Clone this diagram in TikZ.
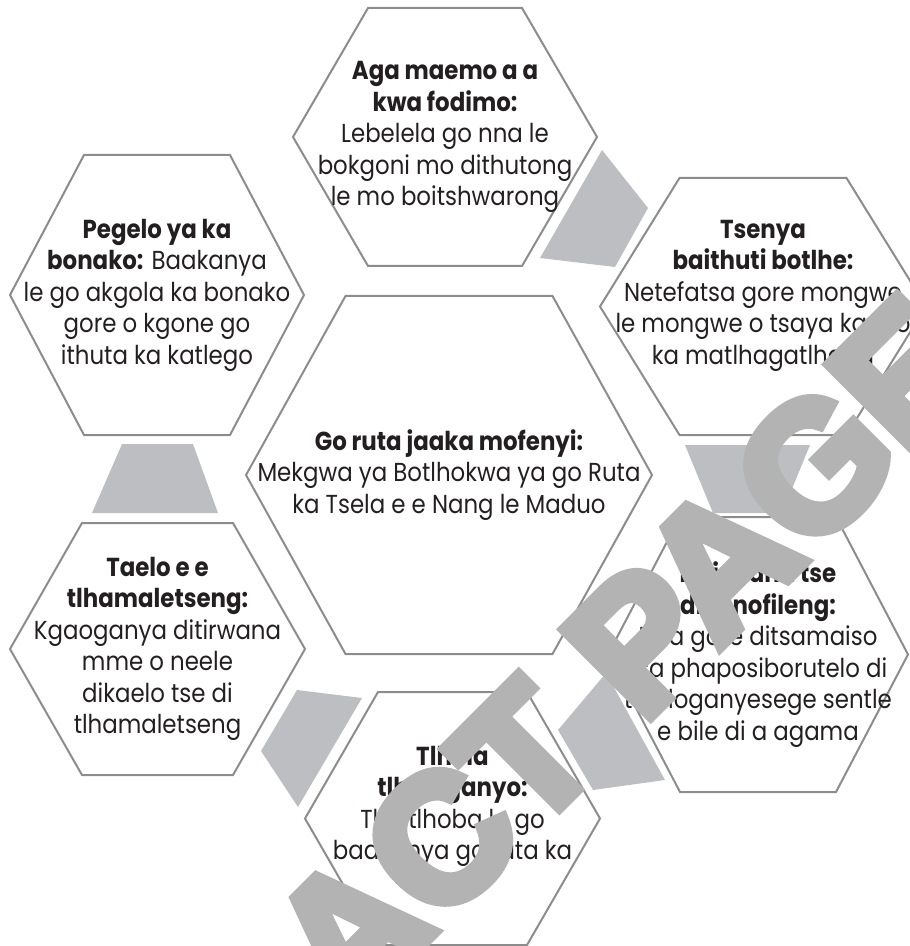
\documentclass[tikz,border=0pt]{standalone}
\usepackage{fontspec}
\setmainfont{Poppins}[FakeStretch=0.88]
\newfontfamily\wmfont{Liberation Sans Bold}[FakeBold=6]
\usetikzlibrary{calc}
\definecolor{hexgray}{HTML}{8C8C8C}
\definecolor{arrgray}{HTML}{BDBEC1}
\definecolor{wmgray}{HTML}{B3B3B3}
\definecolor{ink}{HTML}{231F20}
\tikzset{
  hexline/.style={draw=hexgray, line width=1pt, line join=miter},
  arrowfill/.style={fill=arrgray, draw=none},
  hextext/.style={align=center, text=ink, font=\fontsize{13}{15.75}\selectfont, inner sep=0pt},
  wmark/.style={text=wmgray, font=\wmfont\fontsize{89.5}{89.5}\selectfont, rotate=45, inner sep=0pt}
}
\newcommand{\hexagon}[4]{%
  \draw[hexline, shift={(#1)}] (-#2,0) -- (-#4,-#3) -- (#4,-#3) -- (#2,0) -- (#4,#3) -- (-#4,#3) -- cycle;}
\begin{document}
\begin{tikzpicture}[x=0.5pt,y=-0.5pt]
\useasboundingbox (0,0) rectangle (909,946);
% centres
\coordinate (ctop) at (445,137);
\coordinate (ctl) at (157,295);
\coordinate (ctr) at (763,306.5);
\coordinate (cmid) at (449,475);
\coordinate (cbl) at (157.5,649);
\coordinate (cbr) at (758,654.5);
\coordinate (cbot) at (452.5,818.5);
% hexagons
\hexagon{ctop}{152}{129}{77}
\hexagon{ctl}{147}{140}{73}
\hexagon{ctr}{163}{128.5}{83.5}
\hexagon{cmid}{203}{179}{103.5}
\hexagon{cbl}{147.5}{126}{75.5}
\hexagon{cbr}{150}{137.5}{78}
\hexagon{cbot}{147.5}{126.5}{74.5}
% flow trapezoids
\fill[arrowfill] (602,150) -- (648,208) -- (615,267) -- (540,258) -- cycle;
\fill[arrowfill] (685,445) -- (810,445) -- (782,513) -- (713,513) -- cycle;
\fill[arrowfill] (606,673) -- (665,780) -- (593,790) -- (558,730) -- cycle;
\fill[arrowfill] (297,690) -- (362,698) -- (298,807) -- (261,751) -- cycle;
\fill[arrowfill] (92,513) -- (218,513) -- (193,444) -- (122,444) -- cycle;
% texts
\node[hextext] (ttop) at (ctop) {\textbf{Aga maemo a a}\\\textbf{kwa fodimo:}\\Lebelela go nna le\\bokgoni mo dithutong\\le mo boitshwarong};
\node[hextext] (ttl) at (ctl) {\textbf{Pegelo ya ka}\\\textbf{bonako:} Baakanya\\le go akgola ka bonako\\gore o kgone go\\ithuta ka katlego};
\node[hextext] (ttr) at ($(ctr)+(0,-11)$) {\textbf{Tsenya}\\\textbf{baithuti botlhe:}\\Netefatsa gore mongwe\\le mongwe o tsaya karolo\\ka matlhagatlhaga};
\node[hextext] (tmid) at (cmid) {\textbf{Go ruta jaaka mofenyi:}\\Mekgwa ya Botlhokwa ya go Ruta\\ka Tsela e e Nang le Maduo};
\node[hextext] (tbl) at (cbl) {\textbf{Taelo e e}\\\textbf{tlhamaletseng:}\\Kgaoganya ditirwana\\mme o neele\\dikaelo tse di\\tlhamaletseng};
\node[hextext] (tbr) at (cbr) {\textbf{Ditirwana tse}\\\textbf{dinonofileng:}\\Dira gore ditsamaiso\\tsa phaposiborutelo di\\tlhaloganyesege sentle\\e bile di a agama};
\node[hextext] (tbot) at (cbot) {\textbf{Tlhola}\\\textbf{tlhaloganyo:}\\Tlhatlhoba le go\\baakanya go ruta ka\\tsela};
% watermark
\node[wmark] (wm) at (457,823) {EXTRACT PAGE};
\end{tikzpicture}
\end{document}
